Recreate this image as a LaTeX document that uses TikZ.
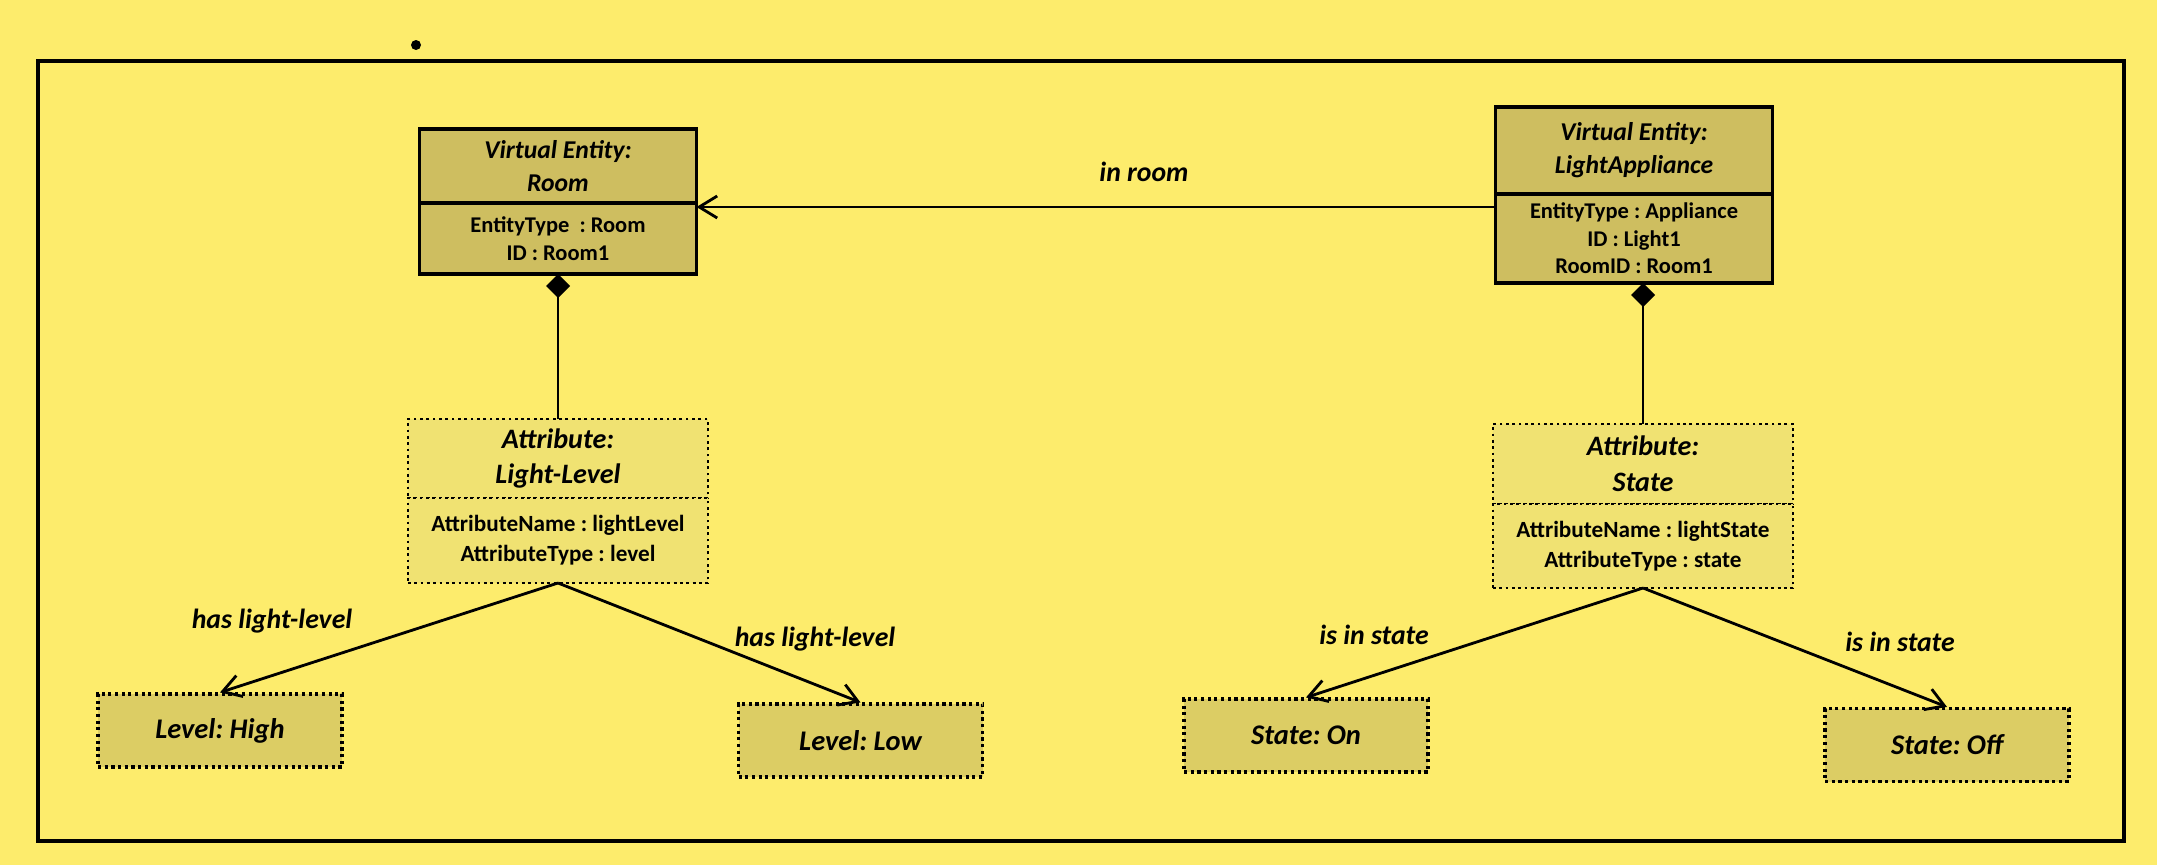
\documentclass[tikz,border=0pt]{standalone}
\usepackage{fontspec}
\setmainfont{Carlito}
\usepackage{tikz}
\usetikzlibrary{arrows.meta,positioning}
\frenchspacing

\definecolor{bgYellow}{RGB}{253,236,108}
\definecolor{veFill}{RGB}{206,190,96}
\definecolor{attrFill}{RGB}{240,226,114}
\definecolor{leafFill}{RGB}{220,205,100}

\tikzset{
  vehead/.style={draw,line width=1.1pt,fill=veFill,minimum width=2.77cm,align=center,inner sep=1pt,outer sep=0pt,font=\fontsize{7.3}{9.4}\selectfont\bfseries\itshape},
  vebody/.style={draw,line width=1.1pt,fill=veFill,minimum width=2.77cm,align=center,inner sep=1pt,outer sep=0pt,font=\fontsize{6.4}{7.8}\selectfont\bfseries},
  attrhead/.style={draw,densely dotted,line width=0.8pt,fill=attrFill,minimum width=3cm,align=center,inner sep=1pt,outer sep=0pt,font=\fontsize{8}{10.2}\selectfont\bfseries\itshape},
  attrbody/.style={draw,densely dotted,line width=0.8pt,fill=attrFill,minimum width=3cm,align=center,inner sep=1pt,outer sep=0pt,font=\fontsize{6.6}{8.6}\selectfont\bfseries},
  leafbox/.style={draw,densely dotted,line width=0.9pt,fill=leafFill,minimum width=2.44cm,minimum height=0.73cm,font=\fontsize{8.1}{10}\selectfont\bfseries\itshape},
  rellabel/.style={inner sep=0pt,font=\fontsize{7.9}{10}\selectfont\bfseries\itshape},
  assoc/.style={line width=0.8pt,-{Straight Barb[length=1.8mm,width=2.2mm]}},
  comp/.style={line width=0.8pt,{Diamond[length=2.4mm,width=2.4mm]}-}
}

\begin{document}
\begin{tikzpicture}
\useasboundingbox (0,0) rectangle (21.57,8.65);
\fill[bgYellow] (0,0) rectangle (21.57,8.65);
\draw[line width=1.2pt] (0.38,0.24) rectangle (21.24,8.04);
\fill (4.16,8.20) circle (0.05);

% virtual entities
\node[vehead,minimum height=0.74cm] (roomHead) at (5.58,6.99) {Virtual Entity:\\Room};
\node[vebody,minimum height=0.71cm,below=0pt of roomHead] (roomBody) {EntityType~~: Room\\ID : Room1};
\node[vehead,minimum height=0.87cm] (lightHead) at (16.34,7.145) {Virtual Entity:\\LightAppliance};
\node[vebody,minimum height=0.89cm,below=0pt of lightHead] (lightBody) {EntityType : Appliance\\ID : Light1\\RoomID : Room1};

% attributes
\node[attrhead,minimum height=0.79cm] (levelHead) at (5.58,4.065) {Attribute:\\Light-Level};
\node[attrbody,minimum height=0.85cm,below=0pt of levelHead] (levelBody) {AttributeName : lightLevel\\AttributeType : level};
\node[attrhead,minimum height=0.80cm] (stateHead) at (16.43,4.01) {Attribute:\\State};
\node[attrbody,minimum height=0.84cm,below=0pt of stateHead] (stateBody) {AttributeName : lightState\\AttributeType : state};

% values
\node[leafbox] (levelHigh) at (2.20,1.345) {Level: High};
\node[leafbox] (levelLow) at (8.605,1.245) {Level: Low};
\node[leafbox] (stateOn) at (13.06,1.295) {State: On};
\node[leafbox] (stateOff) at (19.47,1.20) {State: Off};

% relations
\coordinate (roomLine) at (0,6.58);
\draw[assoc] (lightBody.west |- roomLine) -- (roomBody.east |- roomLine);
\node[rellabel] (inRoom) at (11.44,6.93) {in room};
\draw[comp] (roomBody.south) -- (levelHead.north);
\draw[comp] (stateHead.north |- lightBody.south) -- (stateHead.north);

\draw[assoc] (levelBody.south) -- (levelHigh.north);
\draw[assoc] (levelBody.south) -- (levelLow.north);
\draw[assoc] (stateBody.south) -- (stateOn.north);
\draw[assoc] (stateBody.south) -- (stateOff.north);
\node[rellabel] (hasHigh) at (2.72,2.435) {has light-level};
\node[rellabel] (hasLow) at (8.15,2.26) {has light-level};
\node[rellabel] (inOn) at (13.74,2.30) {is in state};
\node[rellabel] (inOff) at (19.00,2.23) {is in state};
\end{tikzpicture}
\end{document}
